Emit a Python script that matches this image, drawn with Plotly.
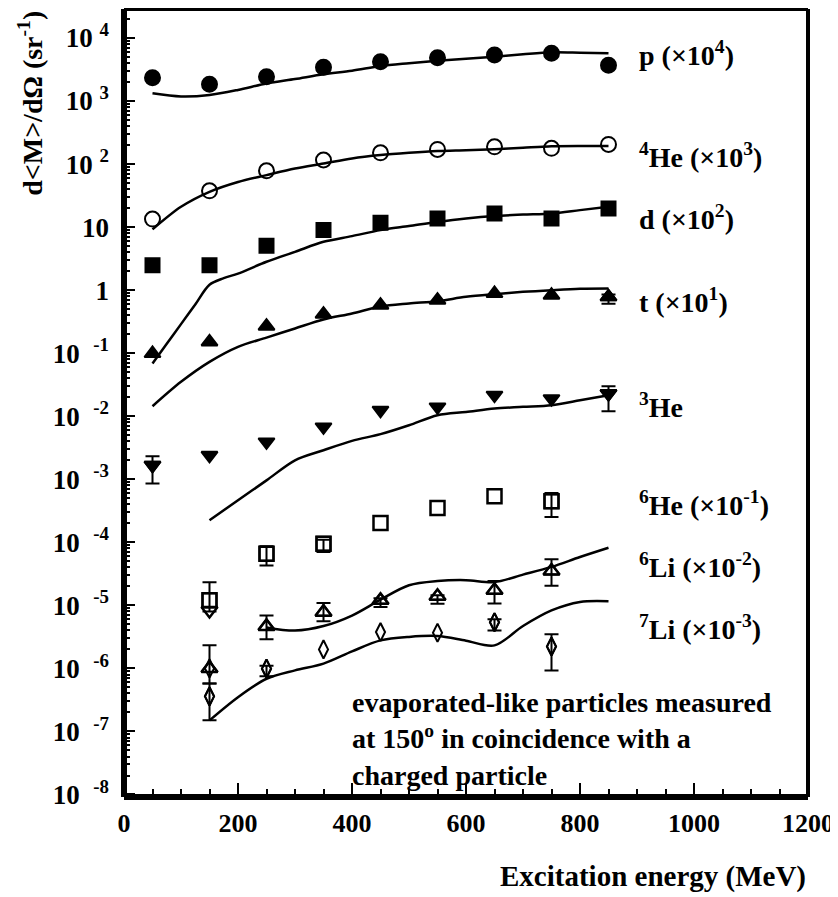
import plotly.graph_objects as go

# measured points (x in MeV)
X_PTS = [50, 150, 250, 350, 450, 550, 650, 750, 850]
P_Y = [2340, 1840, 2430, 3430, 4200, 4870, 5370, 5720, 3690]
HE4_Y = [13.4, 37.7, 78.3, 116, 151, 171, 188, 178, 205]
D_Y = [2.49, 2.49, 5.05, 8.96, 11.7, 13.7, 16.5, 13.7, 19.8]
T_Y = [0.0989, 0.151, 0.268, 0.416, 0.578, 0.694, 0.885, 0.833, 0.783]
HE3_Y = [1.67e-3, 2.4e-3, 3.91e-3, 6.77e-3, 0.01245, 0.01406, 0.0216, 0.019, 0.0229]

X_LIGHT = [150, 250, 350, 450, 550, 650, 750]
HE6_Y = [1.2e-5, 6.6e-5, 9.5e-5, 2.03e-4, 3.5e-4, 5.37e-4, 4.47e-4]
LI6_Y = [1.0e-6, 4.64e-6, 7.8e-6, 1.2e-5, 1.39e-5, 1.73e-5, 3.5e-5]
LI7_Y = [3.6e-7, 9.9e-7, 2.0e-6, 3.77e-6, 3.68e-6, 5.4e-6, 2.23e-6]

# error bars as (x, lower, upper)
T_ERR = [(850, 0.61, 0.85)]
HE3_ERR = [(50, 8.55e-4, 2.32e-3), (850, 0.0120, 0.0299)]
HE6_ERR = [(150, 8.0e-6, 2.32e-5), (250, 4.3e-5, 8.7e-5), (350, 7.0e-5, 1.1e-4),
           (750, 2.51e-4, 6.07e-4)]
LI6_ERR = [(150, 5.78e-7, 2.32e-6), (250, 2.9e-6, 6.9e-6), (350, 5.6e-6, 1.09e-5),
           (450, 9.4e-6, 1.3e-5), (550, 1.06e-5, 1.45e-5), (650, 1.07e-5, 2.43e-5),
           (750, 2.04e-5, 5.37e-5)]
LI7_ERR = [(150, 1.5e-7, 5.78e-7), (250, 7.5e-7, 1.1e-6), (650, 4.0e-6, 6.0e-6),
           (750, 9.3e-7, 3.47e-6)]

# overlapping open markers at 150 MeV
EXTRA_X = [150, 150]
EXTRA_Y = [8.3e-6, 1.0e-6]

# model curves
FIT_X = [50, 100, 150, 200, 250, 300, 350, 400, 450, 500, 550, 600, 650, 700, 750, 800, 850]
P_FIT = [1325, 1180, 1245, 1500, 1900, 2235, 2655, 3020, 3590, 3980, 4360, 4680, 5030, 5500,
         5920, 5850, 5720]
HE4_FIT = [9.2, 21, 36.3, 52, 66.8, 85, 102, 123, 139, 151, 161, 166, 172, 182, 192, 194, 193]
D_FIT_X = [50, 75, 100, 125, 150, 175, 200, 250, 300, 350, 400, 450, 500, 550, 600, 650,
           700, 750, 800, 850]
D_FIT = [0.0686, 0.141, 0.289, 0.593, 1.22, 1.55, 1.83, 2.82, 4.05, 5.85, 7.2, 8.96, 10.4,
         12.1, 13.7, 15.0, 15.8, 16.5, 18.6, 21]
T_FIT = [0.0144, 0.0351, 0.0728, 0.126, 0.177, 0.247, 0.342, 0.427, 0.55, 0.614, 0.668,
         0.783, 0.865, 0.94, 1.0, 1.05, 1.06]
HE3_FIT_X = [150, 200, 250, 300, 350, 400, 450, 500, 550, 600, 650, 700, 750, 800, 850]
HE3_FIT = [2.24e-4, 4.65e-4, 9.6e-4, 2.0e-3, 2.89e-3, 4.07e-3, 5.2e-3, 7.2e-3, 0.0104,
           0.0117, 0.01325, 0.0141, 0.015, 0.0179, 0.0216]
LI6_FIT_X = [250, 300, 350, 400, 450, 500, 550, 600, 650, 700, 750, 800, 850]
LI6_FIT = [4.47e-6, 3.98e-6, 4.7e-6, 6.9e-6, 1.23e-5, 2.08e-5, 2.43e-5, 2.51e-5, 2.34e-5,
           3.07e-5, 4.07e-5, 5.85e-5, 8.2e-5]
LI7_FIT_X = [150, 200, 250, 300, 350, 400, 450, 500, 550, 600, 650, 700, 750, 800, 850]
LI7_FIT = [1.5e-7, 3.5e-7, 6.85e-7, 9.3e-7, 1.19e-6, 1.86e-6, 2.78e-6, 3.16e-6, 3.26e-6,
           2.75e-6, 2.32e-6, 4.7e-6, 8.3e-6, 1.13e-5, 1.16e-5]

# right-hand labels: (text, log10 y position)
LABELS = [
    ('p (×10<sup>4</sup>)', 3.76),
    ('<sup>4</sup>He (×10<sup>3</sup>)', 2.14),
    ('d (×10<sup>2</sup>)', 1.16),
    ('t (×10<sup>1</sup>)', -0.16),
    ('<sup>3</sup>He', -1.83),
    ('<sup>6</sup>He (×10<sup>-1</sup>)', -3.38),
    ('<sup>6</sup>Li (×10<sup>-2</sup>)', -4.37),
    ('<sup>7</sup>Li (×10<sup>-3</sup>)', -5.35),
]

Y_TICKS = [1e-8, 1e-7, 1e-6, 1e-5, 1e-4, 1e-3, 1e-2, 1e-1, 1, 10, 1e2, 1e3, 1e4]
Y_TICK_TEXT = ['10 &nbsp;<sup>-8</sup>', '10 &nbsp;<sup>-7</sup>', '10 &nbsp;<sup>-6</sup>',
               '10 &nbsp;<sup>-5</sup>', '10 &nbsp;<sup>-4</sup>', '10 &nbsp;<sup>-3</sup>',
               '10 &nbsp;<sup>-2</sup>', '10 &nbsp;<sup>-1</sup>', '1', '10',
               '10 <sup>2</sup>', '10 <sup>3</sup>', '10 <sup>4</sup>']

FAMILY = 'Liberation Serif'

# the page body adds an 8px offset, so the figure is drawn 8px smaller
W, H, OFF = 838, 897, 8


def _font(size):
    return dict(family=FAMILY, size=size, color='black', weight='bold')


def _points(x, y, symbol, size, width=2):
    return go.Scatter(
        x=x, y=y, mode='markers',
        marker=dict(symbol=symbol, size=size, color='black',
                    line=dict(color='black', width=width)),
        hoverinfo='skip',
    )


def _errors(x, y, errs, symbol, size):
    lookup = dict(zip(x, y))
    ex = [e[0] for e in errs]
    ey = [lookup[e[0]] for e in errs]
    return go.Scatter(
        x=ex, y=ey, mode='markers',
        marker=dict(symbol=symbol, size=size, color='black', line=dict(color='black', width=2)),
        error_y=dict(type='data', symmetric=False,
                     array=[e[2] - v for e, v in zip(errs, ey)],
                     arrayminus=[v - e[1] for e, v in zip(errs, ey)],
                     color='black', thickness=2, width=7),
        hoverinfo='skip',
    )


def _curve(x, y):
    return go.Scatter(
        x=x, y=y, mode='lines',
        line=dict(color='black', width=2.5, shape='spline', smoothing=0.9),
        hoverinfo='skip',
    )


fig = go.Figure()
for cx, cy in [(FIT_X, P_FIT), (FIT_X, HE4_FIT), (D_FIT_X, D_FIT), (FIT_X, T_FIT),
               (HE3_FIT_X, HE3_FIT), (LI6_FIT_X, LI6_FIT), (LI7_FIT_X, LI7_FIT)]:
    fig.add_trace(_curve(cx, cy))

fig.add_trace(_points(X_PTS, P_Y, 'circle', 15))
fig.add_trace(_points(X_PTS, HE4_Y, 'circle-open', 15))
fig.add_trace(_points(X_PTS, D_Y, 'square', 14))
fig.add_trace(_points(X_PTS, T_Y, 'triangle-up', 14))
fig.add_trace(_points(X_PTS, HE3_Y, 'triangle-down', 14))
fig.add_trace(_points(X_LIGHT, HE6_Y, 'square-open', 14, 2.5))
fig.add_trace(_points(X_LIGHT, LI6_Y, 'triangle-up-open', 14, 2.5))
fig.add_trace(_points(X_LIGHT, LI7_Y, 'diamond-tall-open', 13, 2))
fig.add_trace(_points(EXTRA_X[:1], EXTRA_Y[:1], 'triangle-down-open', 14, 2.5))
fig.add_trace(_points(EXTRA_X[1:], EXTRA_Y[1:], 'diamond-tall-open', 13, 2))

fig.add_trace(_errors(X_PTS, T_Y, T_ERR, 'triangle-up', 14))
fig.add_trace(_errors(X_PTS, HE3_Y, HE3_ERR, 'triangle-down', 14))
fig.add_trace(_errors(X_LIGHT, HE6_Y, HE6_ERR, 'square-open', 14))
fig.add_trace(_errors(X_LIGHT, LI6_Y, LI6_ERR, 'triangle-up-open', 14))
fig.add_trace(_errors(X_LIGHT, LI7_Y, LI7_ERR, 'diamond-tall-open', 13))

annotations = [
    dict(x=900, y=ly, xref='x', yref='y', text=txt, showarrow=False,
         xanchor='left', yanchor='middle', font=_font(28))
    for txt, ly in LABELS
]
annotations += [
    dict(x=0.331, y=0.073, xref='paper', yref='paper', align='left',
         text='evaporated-like particles measured<br>at 150<sup>o</sup> in coincidence with a'
              '<br>charged particle',
         showarrow=False, xanchor='left', yanchor='middle', font=_font(28)),
    dict(x=1.0, y=-0.101, xref='paper', yref='paper', text='Excitation energy (MeV)',
         showarrow=False, xanchor='right', yanchor='middle', font=_font(29)),
    dict(x=-0.137, y=1.0, xref='paper', yref='paper', text='d&lt;M&gt;/dΩ (sr<sup>-1</sup>)',
         textangle=-90, showarrow=False, xanchor='center', yanchor='top', font=_font(28)),
]

frame = [
    dict(type='line', xref='paper', yref='paper', x0=0, x1=0, y0=0, y1=1,
         line=dict(color='black', width=6)),
    dict(type='line', xref='paper', yref='paper', x0=0, x1=1, y0=0, y1=0,
         line=dict(color='black', width=6)),
    dict(type='line', xref='paper', yref='paper', x0=0, x1=1, y0=1, y1=1,
         line=dict(color='black', width=4)),
    dict(type='line', xref='paper', yref='paper', x0=1, x1=1, y0=0, y1=1,
         line=dict(color='black', width=4)),
]

fig.update_layout(
    width=W - OFF, height=H - OFF,
    margin=dict(l=124 - OFF, r=30, t=9 - OFF, b=100),
    paper_bgcolor='white', plot_bgcolor='white',
    showlegend=False,
    font=_font(26),
    annotations=annotations,
    shapes=frame,
    xaxis=dict(
        range=[0, 1200], tick0=0, dtick=200,
        ticks='inside', ticklen=14, tickwidth=2, tickcolor='black',
        minor=dict(dtick=50, ticks='inside', ticklen=8, tickwidth=1.5, tickcolor='black'),
        showgrid=False, zeroline=False, showline=False,
        tickfont=_font(26), ticklabelstandoff=8,
    ),
    yaxis=dict(
        type='log', range=[-8.04, 4.46],
        tickmode='array', tickvals=Y_TICKS, ticktext=Y_TICK_TEXT,
        ticks='inside', ticklen=11, tickwidth=2, tickcolor='black',
        minor=dict(dtick='D1', ticks='inside', ticklen=6, tickwidth=1.5, tickcolor='black'),
        showgrid=False, zeroline=False, showline=False,
        tickfont=_font(27), ticklabelstandoff=14,
    ),
)

fig.write_html('out.html')
